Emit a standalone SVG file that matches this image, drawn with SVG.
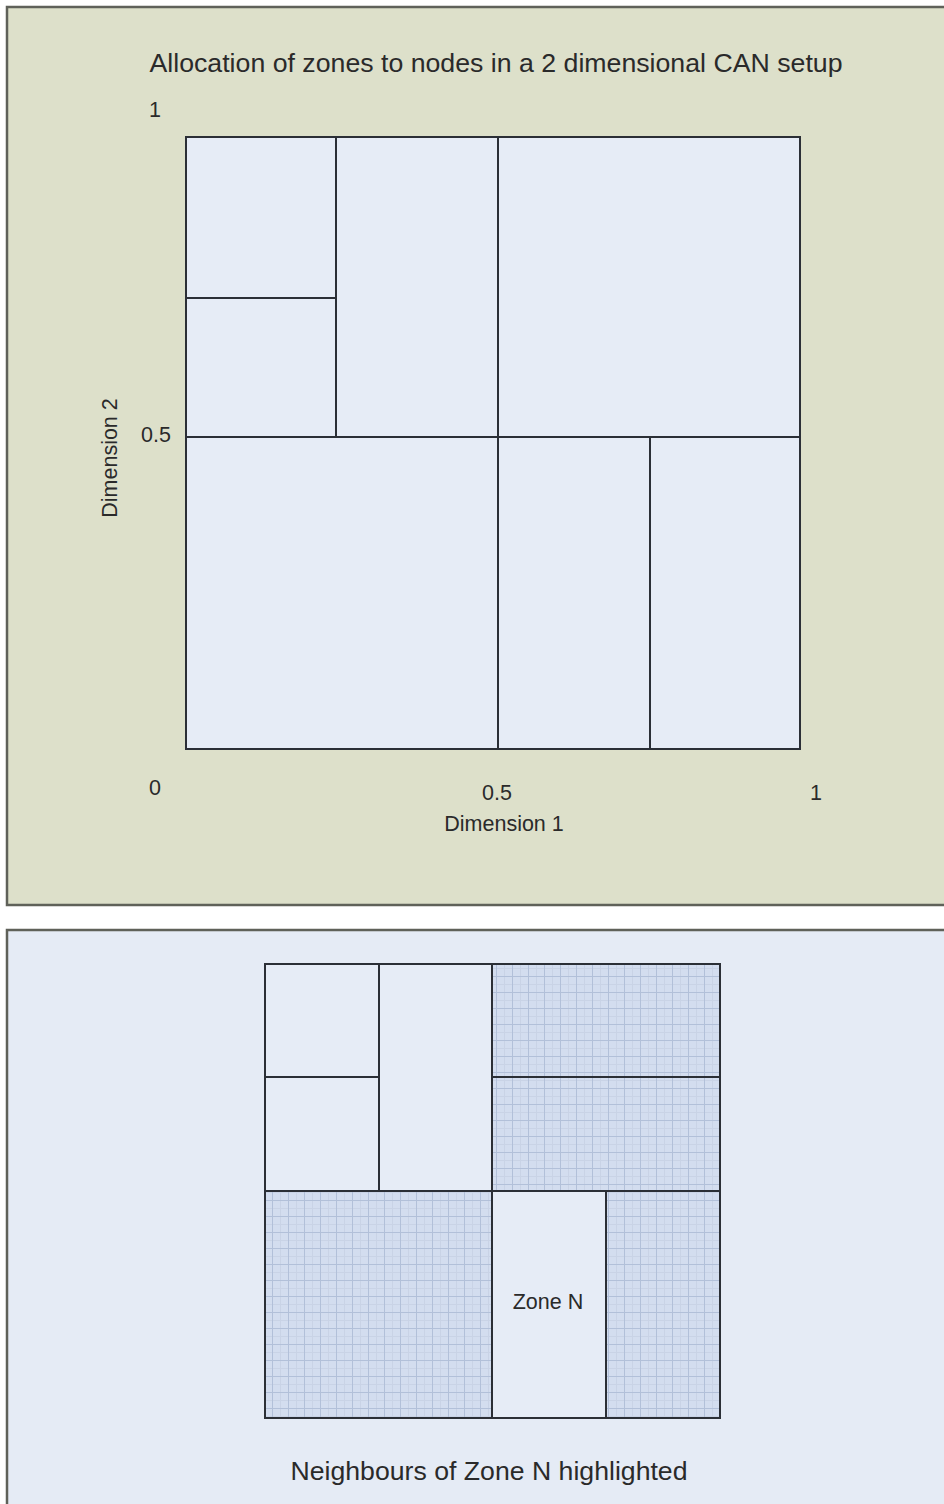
<svg xmlns="http://www.w3.org/2000/svg" width="944" height="1504" viewBox="0 0 944 1504">
<style>
text{font-family:"Liberation Sans",Arial,sans-serif;fill:#2a2a2a}
.lbl{font-size:21.5px}
.ttl{font-size:26.7px}
.ln{stroke:#2b2f36;stroke-width:2;fill:none}
.zone{fill:#e6ecf6}
.hl{fill:url(#grid)}
</style>
<defs>
<pattern id="grid" x="0" y="0" width="16" height="16" patternUnits="userSpaceOnUse">
<rect width="16" height="16" fill="#d3ddef"/>
<path d="M0 8.5H16M8.5 0V16" stroke="#c9d3e6" stroke-width="1"/>
<path d="M0 0.5H16M0.5 0V16" stroke="#b2c0d9" stroke-width="1"/>
</pattern>
</defs>
<rect x="0" y="0" width="944" height="1504" fill="#ffffff"/>
<g id="panel-top">
<rect x="7" y="7" width="945" height="898" fill="#dde0ca" stroke="#5f6159" stroke-width="2.5"/>
<text class="ttl" x="496" y="72" text-anchor="middle" textLength="693" lengthAdjust="spacingAndGlyphs">Allocation of zones to nodes in a 2 dimensional CAN setup</text>
<rect class="zone" x="186" y="137" width="614" height="612"/>
<g id="zones-top" class="ln">
<rect x="186" y="137" width="614" height="612"/>
<line x1="336" y1="137" x2="336" y2="437"/>
<line x1="186" y1="298" x2="336" y2="298"/>
<line x1="186" y1="437" x2="800" y2="437"/>
<line x1="498" y1="137" x2="498" y2="749"/>
<line x1="650" y1="437" x2="650" y2="749"/>
</g>
<g id="axis-labels">
<text class="lbl" x="155" y="117" text-anchor="middle">1</text>
<text class="lbl" x="156" y="442" text-anchor="middle">0.5</text>
<text class="lbl" x="155" y="795" text-anchor="middle">0</text>
<text class="lbl" x="497" y="800" text-anchor="middle">0.5</text>
<text class="lbl" x="816" y="800" text-anchor="middle">1</text>
<text class="lbl" x="504" y="831" text-anchor="middle">Dimension 1</text>
<text class="lbl" x="0" y="0" text-anchor="middle" transform="translate(117,458) rotate(-90)">Dimension 2</text>
</g>
</g>
<g id="panel-bottom">
<rect x="7" y="930" width="945" height="590" fill="#e5ebf5" stroke="#5f6159" stroke-width="2.5"/>
<rect class="zone" x="265" y="964" width="455" height="454"/>
<rect class="hl" x="492" y="964" width="228" height="227"/>
<rect class="hl" x="265" y="1191" width="227" height="227"/>
<rect class="hl" x="606" y="1191" width="114" height="227"/>
<g id="zones-bottom" class="ln">
<rect x="265" y="964" width="455" height="454"/>
<line x1="379" y1="964" x2="379" y2="1191"/>
<line x1="265" y1="1077" x2="379" y2="1077"/>
<line x1="492" y1="964" x2="492" y2="1418"/>
<line x1="492" y1="1077" x2="720" y2="1077"/>
<line x1="265" y1="1191" x2="720" y2="1191"/>
<line x1="606" y1="1191" x2="606" y2="1418"/>
</g>
<text class="lbl" x="548" y="1309" text-anchor="middle">Zone N</text>
<text class="ttl" x="489" y="1480" text-anchor="middle" textLength="397" lengthAdjust="spacingAndGlyphs">Neighbours of Zone N highlighted</text>
</g>
</svg>
